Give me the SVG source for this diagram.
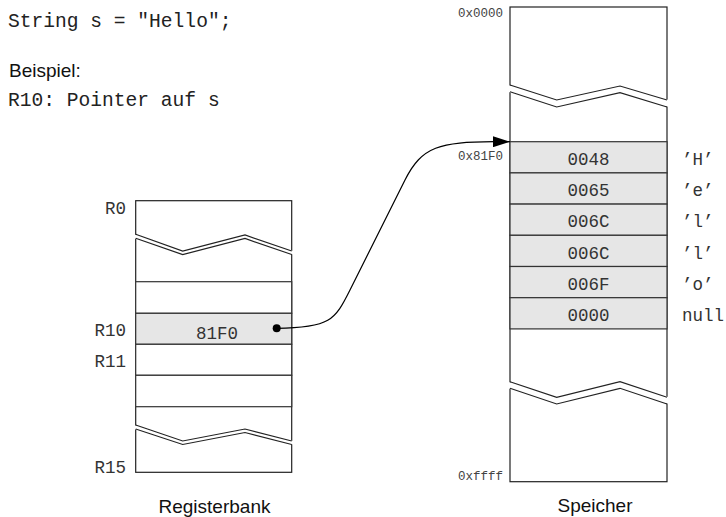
<svg xmlns="http://www.w3.org/2000/svg" width="726" height="517" viewBox="0 0 726 517">
<defs>
<marker id="arr" viewBox="0 0 17 11" refX="17" refY="5.5" markerWidth="17" markerHeight="11" markerUnits="userSpaceOnUse" orient="auto">
<polygon points="0,0 17,5.5 0,11" fill="#000"/>
</marker>
</defs>
<style>
.mono{font-family:"Liberation Mono","Courier New",monospace;fill:#222}
.big{font-size:19.6px}
.cell{font-size:17.5px;fill:#333}
.addr{font-size:12.5px;fill:#444}
.sans{font-family:"Liberation Sans",Arial,sans-serif;font-size:19px;fill:#111}
.box{fill:#fff;stroke:#222;stroke-width:1.2}
.row{fill:#fff;stroke:#333;stroke-width:1.2}
.hl{fill:#e6e6e6;stroke:#333;stroke-width:1.2}
.zz{fill:none;stroke:#222;stroke-width:1.2}
.gap{fill:#fff;stroke:none}
</style>
<rect width="726" height="517" fill="#fff"/>
<g id="code">
<text class="mono big" x="8" y="27">String s = "Hello";</text>
<text class="sans" x="9" y="77">Beispiel:</text>
<text class="mono big" x="8" y="106">R10: Pointer auf s</text>
</g>
<g id="registerbank">
<rect class="box" x="135.7" y="200.7" width="156" height="271.6"/>
<polygon class="gap" points="134,234.3 182.7,251 245,235 293,251 293,254.5 245,238.5 182.7,254.5 134,238.3"/>
<polyline class="zz" points="135.7,234.3 182.7,251 245,235 291.7,251"/>
<polyline class="zz" points="135.7,238.3 182.7,254.5 245,238.5 291.7,254.5"/>
<rect class="row" x="135.7" y="281.7" width="156" height="31.6"/>
<rect class="hl" x="135.7" y="313.3" width="156" height="31"/>
<rect class="row" x="135.7" y="344.3" width="156" height="31"/>
<rect class="row" x="135.7" y="375.3" width="156" height="31.4"/>
<polygon class="gap" points="134,425 182.7,441 245,429 293,441 293,444.5 245,432.5 182.7,444.5 134,429"/>
<polyline class="zz" points="135.7,425 182.7,441 245,429 291.7,441"/>
<polyline class="zz" points="135.7,429 182.7,444.5 245,432.5 291.7,444.5"/>
<text class="mono cell" x="217" y="338.5" text-anchor="middle">81F0</text>
<text class="mono cell" x="126" y="213.5" text-anchor="end">R0</text>
<text class="mono cell" x="126" y="336" text-anchor="end">R10</text>
<text class="mono cell" x="126" y="367" text-anchor="end">R11</text>
<text class="mono cell" x="126" y="472.5" text-anchor="end">R15</text>
<text class="sans" x="214.5" y="512.5" text-anchor="middle">Registerbank</text>
</g>
<g id="speicher">
<rect class="box" x="510" y="7" width="157" height="474.7"/>
<polygon class="gap" points="508,85 556.7,100 620,86 669,100 669,107 620,92.7 556.7,107 508,91.7"/>
<polyline class="zz" points="510,85 556.7,100 620,86 667,100"/>
<polyline class="zz" points="510,91.7 556.7,107 620,92.7 667,107"/>
<rect class="hl" x="510" y="141.7" width="157" height="31.2"/>
<rect class="hl" x="510" y="172.9" width="157" height="31.2"/>
<rect class="hl" x="510" y="204.1" width="157" height="31.2"/>
<rect class="hl" x="510" y="235.3" width="157" height="31.2"/>
<rect class="hl" x="510" y="266.5" width="157" height="31.2"/>
<rect class="hl" x="510" y="297.7" width="157" height="31.2"/>
<polygon class="gap" points="508,381.7 556.7,397.3 620,381.7 669,397.3 669,404 620,388.3 556.7,404 508,388.3"/>
<polyline class="zz" points="510,381.7 556.7,397.3 620,381.7 667,397.3"/>
<polyline class="zz" points="510,388.3 556.7,404 620,388.3 667,404"/>
<text class="mono cell" x="588.5" y="165" text-anchor="middle">0048</text>
<text class="mono cell" x="588.5" y="196.2" text-anchor="middle">0065</text>
<text class="mono cell" x="588.5" y="227.4" text-anchor="middle">006C</text>
<text class="mono cell" x="588.5" y="258.6" text-anchor="middle">006C</text>
<text class="mono cell" x="588.5" y="289.8" text-anchor="middle">006F</text>
<text class="mono cell" x="588.5" y="321" text-anchor="middle">0000</text>
<text class="mono cell" x="682" y="165">’H’</text>
<text class="mono cell" x="682" y="196.2">’e’</text>
<text class="mono cell" x="682" y="227.4">’l’</text>
<text class="mono cell" x="682" y="258.6">’l’</text>
<text class="mono cell" x="682" y="289.8">’o’</text>
<text class="mono cell" x="682" y="321">null</text>
<text class="mono addr" x="503" y="17" text-anchor="end">0x0000</text>
<text class="mono addr" x="503" y="160" text-anchor="end">0x81F0</text>
<text class="mono addr" x="503" y="480" text-anchor="end">0xffff</text>
<text class="sans" x="595" y="512" text-anchor="middle">Speicher</text>
</g>
<g id="connectors">
<circle cx="276.7" cy="328.3" r="4" fill="#000"/>
<path d="M276.7,328.3 C330,328 335,320 350,290 L405,180 C422,146 440,142 494,141.7 L510,141.7" fill="none" stroke="#000" stroke-width="1.2" marker-end="url(#arr)"/>
</g>
</svg>
